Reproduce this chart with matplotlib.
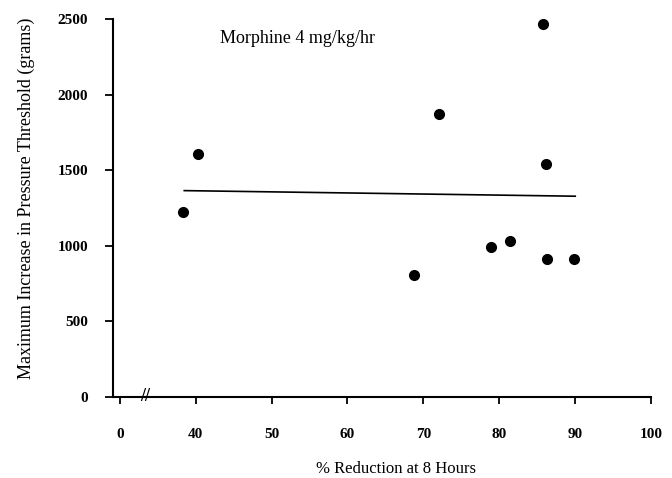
import matplotlib.pyplot as plt

# --- data ---
reduction = [38.3, 40.3, 68.8, 72.0, 78.9, 81.4, 85.8, 86.1, 86.3, 89.9]
threshold = [1225, 1610, 810, 1870, 995, 1035, 2470, 1540, 915, 915]

# fitted line endpoints as drawn
fit_x = [38.5, 90.0]
fit_y = [1365, 1328]

xtick_pos = [30, 40, 50, 60, 70, 80, 90, 100]
xtick_labels = ['0', '40', '50', '60', '70', '80', '90', '100']
ytick_pos = [0, 500, 1000, 1500, 2000, 2500]

plt.rcParams['font.family'] = ['Liberation Serif', 'DejaVu Serif']

fig = plt.figure(figsize=(6.72, 4.78), dpi=100)
ax = fig.add_axes([0.168, 0.1695, 0.801, 0.7907])

ax.plot(reduction, threshold, 'o', color='black', markersize=7)
ax.plot(fit_x, fit_y, '-', color='black', linewidth=1.2)

ax.set_xlim(29.1, 100)
ax.set_ylim(0, 2500)
ax.set_xticks(xtick_pos)
ax.set_xticklabels(xtick_labels)
ax.set_yticks(ytick_pos)

for side in ['top', 'right']:
    ax.spines[side].set_visible(False)
for side in ['left', 'bottom']:
    ax.spines[side].set_linewidth(1.5)

ax.tick_params(axis='x', direction='out', length=5, width=1.3, pad=17, labelsize=11)
ax.tick_params(axis='y', direction='out', length=6, width=1.3, pad=12, labelsize=11)
for lbl in ax.get_xticklabels() + ax.get_yticklabels():
    lbl.set_fontweight('bold')

# axis break mark
ax.text(33.3, 0, '//', ha='center', va='center', fontsize=13, fontweight='bold',
        clip_on=False)

ax.text(43.2, 2370, 'Morphine 4 mg/kg/hr', fontsize=13, va='center', ha='left')

ax.set_ylabel('Maximum Increase in Pressure Threshold (grams)', fontsize=13)
ax.yaxis.set_label_coords(-0.145, 0.526)
fig.text(0.589, 0.019, '% Reduction at 8 Hours', fontsize=12, ha='center', va='center')

fig.savefig('out.png', dpi=100)
